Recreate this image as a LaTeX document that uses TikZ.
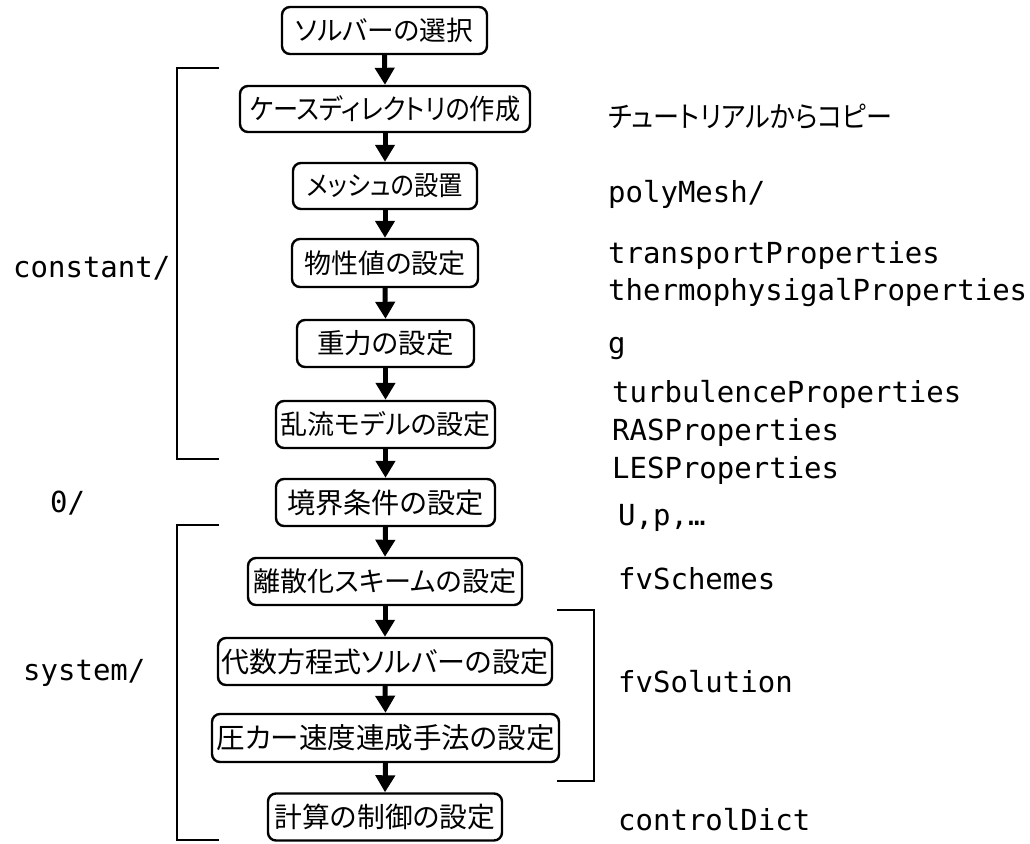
\documentclass[tikz,border=0pt]{standalone}
\usepackage{fontspec}
\setmonofont{DejaVu Sans Mono}
\newfontfamily\jpfont[RawFeature=+palt]{Noto Sans CJK JP}
\newfontfamily\jpnarrow[RawFeature=+palt, FakeStretch=0.9]{Noto Sans CJK JP}
\usetikzlibrary{arrows.meta}

\begin{document}
\begin{tikzpicture}[x=1pt,y=-1pt,
  stepbox/.style={draw, line width=2.4pt, rounded corners=8pt, inner sep=0pt,
    fill=white, font=\jpfont\fontsize{#1}{#1}\selectfont},
  stepbox/.default=27,
  kanabox/.style={stepbox, font=\jpnarrow\fontsize{#1}{#1}\selectfont},
  flow/.style={line width=5pt, -{Triangle[width=19pt,length=17pt]}},
  brace/.style={line width=2.4pt},
  file/.style={font=\ttfamily\fontsize{29}{34}\selectfont, anchor=base west, inner sep=0pt},
  note/.style={font=\jpnarrow\fontsize{29}{32}\selectfont, anchor=west, inner sep=0pt},
]
\useasboundingbox (0,0) rectangle (1030,843);

% workflow steps
\node[stepbox=26.7, minimum width=205pt, minimum height=47pt] (s1)  at (384.5,30.5) {ソルバーの選択};
\node[kanabox=28,   minimum width=290pt, minimum height=46pt] (s2)  at (385,109)    {ケースディレクトリの作成};
\node[kanabox=27,   minimum width=184pt, minimum height=46pt] (s3)  at (385,186)    {メッシュの設置};
\node[stepbox=27,   minimum width=186pt, minimum height=48pt] (s4)  at (385,263)    {物性値の設定};
\node[stepbox=27.5, minimum width=177pt, minimum height=47pt] (s5)  at (385.5,343.5){重力の設定};
\node[stepbox=27,   minimum width=219pt, minimum height=47pt] (s6)  at (385.5,424.5){乱流モデルの設定};
\node[stepbox=28.2, minimum width=219pt, minimum height=47pt] (s7)  at (385.5,502.5){境界条件の設定};
\node[stepbox=27.1, minimum width=274pt, minimum height=47pt] (s8)  at (385,581.5)  {離散化スキームの設定};
\node[stepbox=28,   minimum width=334pt, minimum height=47pt] (s9)  at (385,661.5)  {代数方程式ソルバーの設定};
\node[stepbox=28.5, minimum width=347pt, minimum height=48pt] (s10) at (385.5,738)  {圧カー速度連成手法の設定};
\node[stepbox=27.8, minimum width=234pt, minimum height=47pt] (s11) at (385,817)    {計算の制御の設定};

% arrows between steps
\foreach \a/\b in {s1/s2,s2/s3,s3/s4,s4/s5,s5/s6,s6/s7,s7/s8,s8/s9,s9/s10,s10/s11}
  \draw[flow] (\a.south) -- (\b.north);

% directory brackets
\draw[brace] (219,68) -- (177,68) -- (177,459) -- (219,459);
\draw[brace] (219,525) -- (177,525) -- (177,840) -- (219,840);
\draw[brace] (557,610) -- (594,610) -- (594,781) -- (557,781);

% directory names
\node[file] (dconst) at (13,277)  {constant/};
\node[file] (dzero)  at (50,512)  {0/};
\node[file] (dsys)   at (23,680)  {system/};

% files per step
\node[note] (ncopy) at (608,117) {チュートリアルからコピー};
\node[file] (f1)  at (608,202) {polyMesh/};
\node[file] (f2)  at (608,263) {transportProperties};
\node[file] (f3)  at (608,300) {thermophysigalProperties};
\node[file] (f4)  at (608,353) {g};
\node[file] (f5)  at (612,402) {turbulenceProperties};
\node[file] (f6)  at (612,440) {RASProperties};
\node[file] (f7)  at (612,478) {LESProperties};
\node[file] (f8)  at (618,525) {U,p,…};
\node[file] (f9)  at (618,589) {fvSchemes};
\node[file] (f10) at (618,692) {fvSolution};
\node[file] (f11) at (618,830) {controlDict};
\end{tikzpicture}
\end{document}
